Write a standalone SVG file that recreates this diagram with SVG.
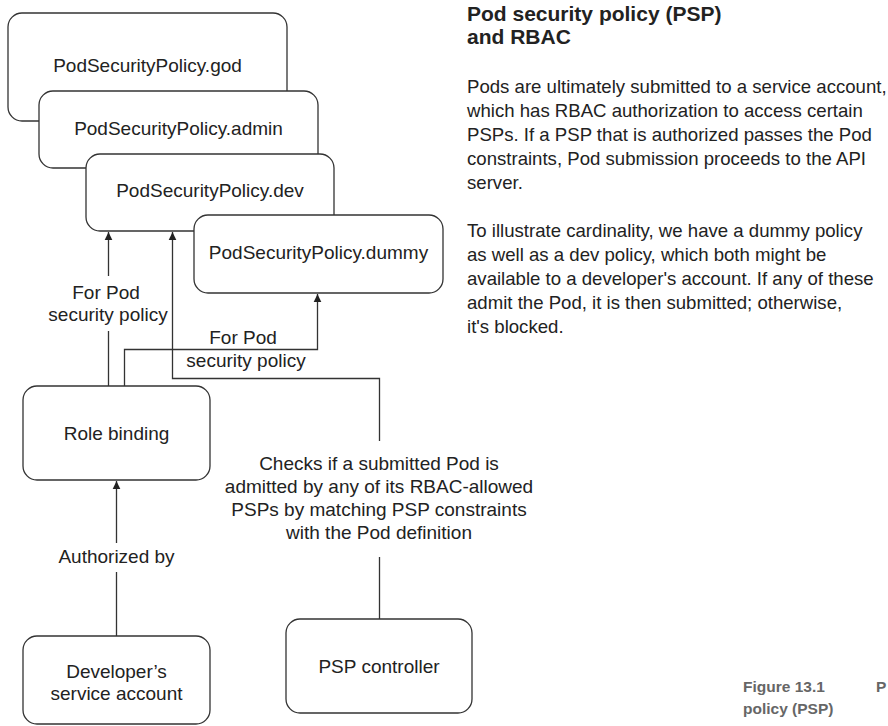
<svg xmlns="http://www.w3.org/2000/svg" width="888" height="726" viewBox="0 0 888 726">
<style>
.box{fill:#fff;stroke:#333;stroke-width:1.3}
.lbl{font-family:"Liberation Sans",Arial,sans-serif;font-size:19px;fill:#222;text-anchor:middle}
.body{font-family:"Liberation Sans",Arial,sans-serif;font-size:18.6px;fill:#222}
.title{font-family:"Liberation Sans",Arial,sans-serif;font-size:21px;font-weight:bold;fill:#222}
.cap{font-family:"Liberation Sans",Arial,sans-serif;font-size:15.5px;font-weight:bold;fill:#666}
.con{fill:none;stroke:#333;stroke-width:1.3}
</style>
<defs>
<marker id="arr" viewBox="0 0 8 12" refX="8" refY="6" markerWidth="9" markerHeight="12" markerUnits="userSpaceOnUse" orient="auto">
<path d="M0,2.2 L8,6 L0,9.8 Z" fill="#222"/>
</marker>
</defs>
<rect width="888" height="726" fill="#fff"/>
<g id="psp-god"><rect class="box" x="8" y="13" width="279" height="108" rx="14"/><text class="lbl" x="147.5" y="72">PodSecurityPolicy.god</text></g>
<g id="psp-admin"><rect class="box" x="39" y="91" width="279" height="77" rx="14"/><text class="lbl" x="178.5" y="135">PodSecurityPolicy.admin</text></g>
<g id="psp-dev"><rect class="box" x="86" y="154" width="248" height="77" rx="14"/><text class="lbl" x="210" y="197">PodSecurityPolicy.dev</text></g>
<g id="psp-dummy"><rect class="box" x="194" y="215" width="249" height="78" rx="14"/><text class="lbl" x="318.5" y="259">PodSecurityPolicy.dummy</text></g>
<g id="role-binding"><rect class="box" x="23" y="386" width="187" height="94" rx="14"/><text class="lbl" x="116.5" y="440">Role binding</text></g>
<g id="dev-account"><rect class="box" x="23" y="636" width="187" height="88" rx="14"/><text class="lbl" x="116.5" y="678">Developer’s</text><text class="lbl" x="116.5" y="700">service account</text></g>
<g id="psp-controller"><rect class="box" x="286" y="619" width="186" height="94" rx="14"/><text class="lbl" x="379" y="673">PSP controller</text></g>
<g id="connectors">
<path class="con" d="M108.5,386 V331 M108.5,276 V232" marker-end="url(#arr)"/>
<path class="con" d="M124.5,386 V349.5 H317.5 V294" marker-end="url(#arr)"/>
<path class="con" d="M379.5,619 V557 M379.5,441 V378.5 H172.5 V232" marker-end="url(#arr)"/>
<path class="con" d="M116.5,636 V572 M116.5,543 V481" marker-end="url(#arr)"/>
<text class="lbl" x="106" y="299">For Pod</text>
<text class="lbl" x="108" y="321">security policy</text>
<text class="lbl" x="243" y="344">For Pod</text>
<text class="lbl" x="246" y="367">security policy</text>
<text class="lbl" x="379" y="470">Checks if a submitted Pod is</text>
<text class="lbl" x="379" y="493">admitted by any of its RBAC-allowed</text>
<text class="lbl" x="379" y="516">PSPs by matching PSP constraints</text>
<text class="lbl" x="379" y="539">with the Pod definition</text>
<text class="lbl" x="116.5" y="563">Authorized by</text>
</g>
<g id="description">
<text class="title" x="467" y="21">Pod security policy (PSP)</text>
<text class="title" x="467" y="44">and RBAC</text>
<text class="body" x="467" y="93">Pods are ultimately submitted to a service account,</text>
<text class="body" x="467" y="117">which has RBAC authorization to access certain</text>
<text class="body" x="467" y="141">PSPs. If a PSP that is authorized passes the Pod</text>
<text class="body" x="467" y="165">constraints, Pod submission proceeds to the API</text>
<text class="body" x="467" y="189">server.</text>
<text class="body" x="467" y="237">To illustrate cardinality, we have a dummy policy</text>
<text class="body" x="467" y="261">as well as a dev policy, which both might be</text>
<text class="body" x="467" y="285">available to a developer's account. If any of these</text>
<text class="body" x="467" y="309">admit the Pod, it is then submitted; otherwise,</text>
<text class="body" x="467" y="333">it's blocked.</text>
</g>
<g id="caption">
<text class="cap" x="743" y="692">Figure 13.1</text>
<text class="cap" x="876" y="692">P</text>
<text class="cap" x="743" y="714">policy (PSP)</text>
</g>
</svg>
